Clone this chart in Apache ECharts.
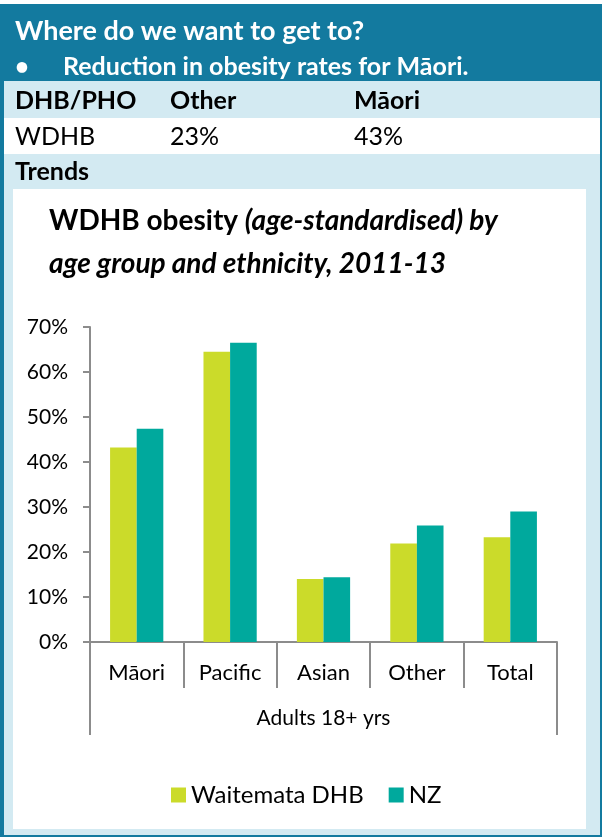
<!DOCTYPE html>
<html>
<head>
<meta charset="utf-8">
<title>WDHB obesity</title>
<script src="https://cdn.jsdelivr.net/npm/echarts@6/dist/echarts.min.js"></script>
<style>
  html, body { margin: 0; padding: 0; background: #fff; }
  #main { width: 602px; height: 837px; }
</style>
</head>
<body>
<div id="main"></div>
<script>
// chart data
var groups = ['Māori', 'Pacific', 'Asian', 'Other', 'Total'];
var ageGroup = ['Adults 18+ yrs'];
var waitemata = [43.2, 64.5, 14.0, 21.9, 23.3];
var nz = [47.4, 66.5, 14.4, 25.9, 29.0];
var seriesNames = ['Waitemata DHB', 'NZ'];

// target table in the header
var tableHead = ['DHB/PHO', 'Other', 'Māori'];
var tableRow = ['WDHB', '23%', '43%'];

var dark = '#137a9f';
var pale = '#d3eaf2';
var axisGrey = '#8c8c8c';
var font = 'Lato, "Noto Sans", sans-serif';
var colX = [15, 170, 354];

function label(text, x, y, size, weight, color) {
    return {
        type: 'text', x: x, y: y, z: 1,
        style: {
            text: text, fill: color || '#000',
            fontSize: size, fontWeight: weight || 'normal', fontFamily: font,
            verticalAlign: 'middle'
        }
    };
}

var graphics = [
    { type: 'rect', z: 0, shape: { x: 0, y: 4, width: 602, height: 833 }, style: { fill: dark } },
    { type: 'rect', z: 0, shape: { x: 4, y: 81, width: 596, height: 754 }, style: { fill: pale } },
    { type: 'rect', z: 0, shape: { x: 4, y: 118, width: 596, height: 36 }, style: { fill: '#fff' } },
    { type: 'rect', z: 0, shape: { x: 13, y: 189, width: 573, height: 640 }, style: { fill: '#fff' } },
    label('Where do we want to get to?', 15, 31, 27, 'bold', '#fff'),
    label('•', 15, 67, 24, 'bold', '#fff'),
    label('Reduction in obesity rates for Māori.', 63, 67, 25, 'bold', '#fff'),
    label('Trends', 15, 172, 25, 'bold')
];
tableHead.forEach(function (t, i) { graphics.push(label(t, colX[i], 101, 25, 'bold')); });
tableRow.forEach(function (t, i) { graphics.push(label(t, colX[i], 137, 25, 'normal')); });

var myChart = echarts.init(document.getElementById('main'));
var option = {
    animation: false,
    graphic: graphics,
    title: {
        left: 49, top: 199, padding: 0,
        text: '{b|WDHB obesity }{bi|(age-standardised) by}\n{bi|age group and ethnicity, 2011-13}',
        textStyle: {
            rich: {
                b: { fontSize: 28, fontWeight: 'bold', fontFamily: font, color: '#000', lineHeight: 43 },
                bi: { fontSize: 28, fontWeight: 'bold', fontStyle: 'italic', fontFamily: font, color: '#000', lineHeight: 43 }
            }
        }
    },
    legend: {
        left: 166, top: 778,
        icon: 'rect', itemWidth: 15, itemHeight: 15, itemGap: 25,
        textStyle: { fontSize: 24, fontFamily: font, color: '#000' },
        data: seriesNames
    },
    grid: { left: 90, right: 45, top: 327, bottom: 195, containLabel: false },
    xAxis: [
        {
            type: 'category', data: groups,
            axisLine: { lineStyle: { color: axisGrey, width: 2 } },
            axisTick: { show: true, interval: 0, length: 46, lineStyle: { color: axisGrey, width: 2 } },
            axisLabel: { interval: 0, margin: 20, fontSize: 22, fontFamily: font, color: '#000' }
        },
        {
            type: 'category', data: ageGroup, position: 'bottom',
            axisLine: { show: false },
            axisTick: { show: true, length: 93, lineStyle: { color: axisGrey, width: 2 } },
            axisLabel: { margin: 66, fontSize: 21, fontFamily: font, color: '#000' }
        }
    ],
    yAxis: {
        type: 'value', min: 0, max: 70, interval: 10,
        axisLine: { show: true, lineStyle: { color: axisGrey, width: 2 } },
        axisTick: { show: true, length: 7, lineStyle: { color: axisGrey, width: 2 } },
        splitLine: { show: false },
        axisLabel: { formatter: '{value}%', margin: 22, fontSize: 21, fontFamily: font, color: '#000' }
    },
    series: [
        {
            name: seriesNames[0], type: 'bar', xAxisIndex: 0, data: waitemata,
            barGap: 0, barCategoryGap: '43%',
            itemStyle: { color: '#cbdb2a' }
        },
        {
            name: seriesNames[1], type: 'bar', xAxisIndex: 0, data: nz,
            barGap: 0, barCategoryGap: '43%',
            itemStyle: { color: '#00a99d' }
        }
    ]
};
myChart.setOption(option);
</script>
</body>
</html>
